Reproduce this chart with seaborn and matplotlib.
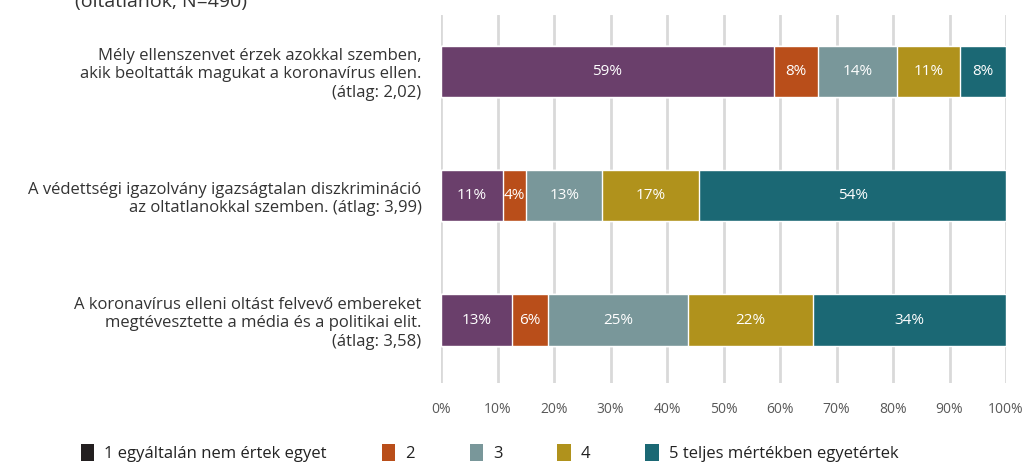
import numpy as np
import pandas as pd
import matplotlib.pyplot as plt
import seaborn as sns
from matplotlib.patches import Patch

# statements (y categories)
statements = [
    "Mély ellenszenvet érzek azokkal szemben,\nakik beoltatták magukat a koronavírus ellen.\n(átlag: 2,02)",
    "A védettségi igazolvány igazságtalan diszkrimináció\naz oltatlanokkal szemben. (átlag: 3,99)",
    "A koronavírus elleni oltást felvevő embereket\nmegtévesztette a média és a politikai elit.\n(átlag: 3,58)",
]
answers = ["1 egyáltalán nem értek egyet", "2", "3", "4", "5 teljes mértékben egyetértek"]

# shares (%) per answer, one list per statement order
share_1 = [58.9, 11.0, 12.6]
share_2 = [7.8, 4.1, 6.4]
share_3 = [14.0, 13.4, 24.8]
share_4 = [11.2, 17.2, 22.0]
share_5 = [8.1, 54.3, 34.2]

bar_colors = ["#6a3f6b", "#b94e1a", "#79979a", "#b0921c", "#1b6874"]
legend_colors = ["#231f20", "#b94e1a", "#79979a", "#b0921c", "#1b6874"]

sns.set_theme(style="white")
plt.rcParams['font.family'] = ['Open Sans', 'DejaVu Sans']

shares = np.array([share_1, share_2, share_3, share_4, share_5])
cum = shares.cumsum(axis=0)

fig = plt.figure(figsize=(10.3, 4.63), dpi=100)
ax = fig.add_axes([0.4282, 0.1728, 0.5485, 0.7948])

# draw stacked bars back to front
for k in range(4, -1, -1):
    df = pd.DataFrame({"stmt": statements, "val": cum[k]})
    sns.barplot(data=df, x="val", y="stmt", orient="h", color=bar_colors[k],
                saturation=1, width=0.41, ax=ax, zorder=2)

# labels in segments
for k in range(5):
    for i in range(len(statements)):
        v = shares[k, i]
        ax.text(cum[k, i] - v / 2, i, f"{v:.0f}%", ha="center", va="center",
                color="white", fontsize=11, zorder=3)

ax.set_xlim(0, 100)
ax.set_ylim(2.506, -0.45)
ax.set_xticks(np.arange(0, 101, 10))
ax.set_xticklabels([f"{t}%" for t in range(0, 101, 10)])
ax.xaxis.grid(True, color="#d9d9d9", lw=2)
ax.set_axisbelow(True)
for s in ax.spines.values():
    s.set_visible(False)
ax.set_xlabel("")
ax.set_ylabel("")
ax.tick_params(axis="x", length=0, pad=14, labelsize=10, labelcolor="#595959")
ax.tick_params(axis="y", length=0, pad=14, labelsize=12, labelcolor="#333333")

fig.text(0.073, 0.985, "(oltatlanok, N=490)", fontsize=14, color="#333333",
         va="baseline")

handles = [Patch(facecolor=c, edgecolor="none") for c in legend_colors]
fig.legend(handles, answers, loc="center left", bbox_to_anchor=(0.064, 0.022),
           ncol=5, frameon=False, fontsize=12, handlelength=0.8,
           handleheight=1.2, handletextpad=0.6, columnspacing=3.3,
           labelcolor="#222222")

fig.savefig("out.png", dpi=100)
